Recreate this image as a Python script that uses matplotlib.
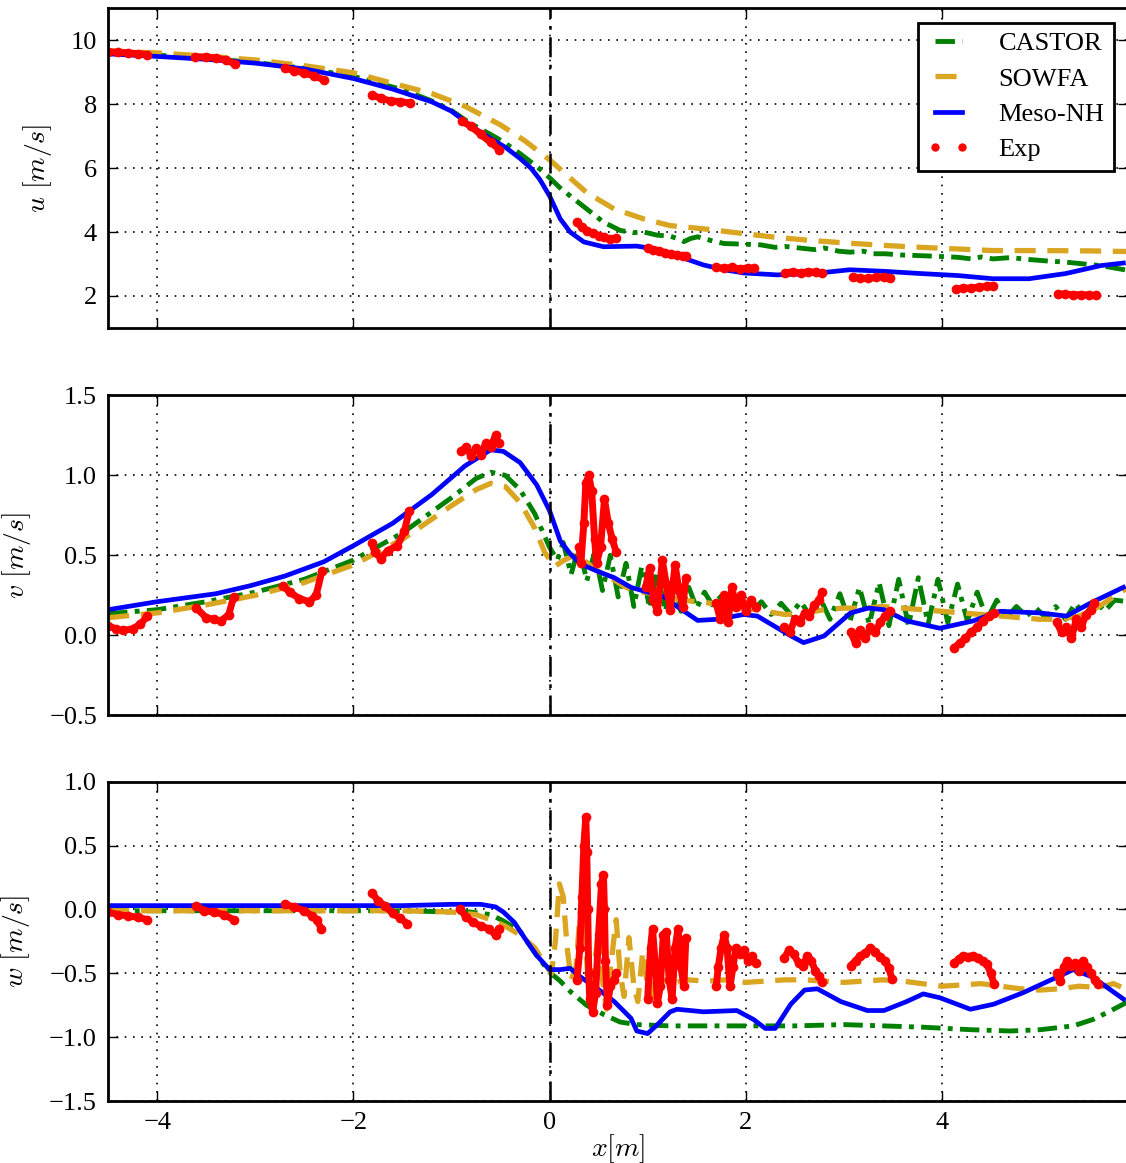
import numpy as np
import matplotlib
matplotlib.use("Agg")
import matplotlib.pyplot as plt
from matplotlib.lines import Line2D

nan = np.nan

# ---------------- u panel ----------------
castor_u_x = [-4.5, -4.0, -3.5, -3.0, -2.5, -2.0, -1.5, -1.2, -1.0, -0.81, -0.6, -0.47, -0.3, -0.13, 0.0,
              0.1, 0.21, 0.38, 0.55, 0.72, 0.85, 0.96, 1.1, 1.23, 1.3, 1.37, 1.44, 1.51, 1.64, 1.78, 1.98,
              2.15, 2.3, 2.4, 2.55, 2.7, 2.8, 2.95, 3.06, 3.2, 3.3, 3.42, 3.6, 3.79, 3.95, 4.16, 4.3, 4.4,
              4.52, 4.7, 4.89, 5.05, 5.26, 5.45, 5.62, 5.75, 5.9]
castor_u = [9.6, 9.53, 9.43, 9.3, 9.12, 8.87, 8.45, 8.1, 7.8, 7.4, 7.05, 6.82, 6.45, 6.05, 5.7,
            5.4, 5.13, 4.72, 4.31, 4.05, 3.98, 4.0, 3.9, 3.87, 3.8, 3.7, 3.8, 3.85, 3.74, 3.64, 3.62,
            3.6, 3.52, 3.55, 3.5, 3.45, 3.5, 3.4, 3.37, 3.4, 3.32, 3.32, 3.28, 3.26, 3.24, 3.21, 3.16, 3.22,
            3.16, 3.2, 3.14, 3.1, 3.06, 3.0, 2.95, 2.88, 2.8]

sowfa_u_x = [-4.5, -4.0, -3.5, -3.0, -2.5, -2.0, -1.6, -1.2, -0.86, -0.5, -0.25, 0.0, 0.21, 0.38, 0.66,
             0.96, 1.23, 1.57, 1.98, 2.32, 2.69, 3.06, 3.42, 3.79, 4.16, 4.52, 5.0, 5.5, 5.9]
sowfa_u = [9.66, 9.6, 9.5, 9.38, 9.2, 8.98, 8.65, 8.33, 7.93, 7.35, 6.85, 6.26, 5.69, 5.23, 4.72,
           4.41, 4.2, 4.1, 3.95, 3.83, 3.73, 3.65, 3.58, 3.52, 3.47, 3.42, 3.42, 3.41, 3.39]

meso_u_x = [-4.5, -4.0, -3.5, -3.0, -2.5, -2.0, -1.6, -1.2, -1.0, -0.8, -0.6, -0.45, -0.3, -0.19, -0.1,
            0.0, 0.11, 0.21, 0.35, 0.55, 0.89, 1.03, 1.23, 1.4, 1.57, 1.78, 1.98, 2.32, 2.69, 3.06,
            3.42, 3.79, 4.16, 4.52, 4.89, 5.26, 5.62, 5.85]
meso_u = [9.57, 9.49, 9.4, 9.28, 9.1, 8.8, 8.47, 8.07, 7.78, 7.32, 6.92, 6.65, 6.3, 6.0, 5.65,
          5.13, 4.41, 4.0, 3.69, 3.54, 3.56, 3.49, 3.33, 3.15, 2.97, 2.82, 2.72, 2.66, 2.70, 2.82,
          2.77, 2.70, 2.64, 2.54, 2.54, 2.70, 2.95, 3.03]

exp_u_x = [-4.5, -4.4, -4.3, -4.2, -4.1, nan,
           -3.61, -3.5, -3.4, -3.3, -3.21, nan,
           -2.7, -2.6, -2.5, -2.4, -2.3, nan,
           -1.81, -1.72, -1.62, -1.52, -1.42, nan,
           -0.89, -0.8, -0.7, -0.6, -0.51, nan,
           0.28, 0.33, 0.38, 0.44, 0.5, 0.56, 0.62, 0.68, nan,
           1.0, 1.06, 1.12, 1.18, 1.24, 1.3, 1.36, 1.39, nan,
           1.7, 1.78, 1.86, 1.94, 2.02, 2.08, nan,
           2.4, 2.48, 2.56, 2.64, 2.72, 2.78, nan,
           3.09, 3.17, 3.25, 3.33, 3.41, 3.47, nan,
           4.14, 4.22, 4.3, 4.38, 4.46, 4.52, nan,
           5.18, 5.26, 5.34, 5.42, 5.5, 5.57]
exp_u = [9.64, 9.62, 9.6, 9.58, 9.55, nan,
         9.48, 9.47, 9.44, 9.38, 9.26, nan,
         9.12, 9.05, 8.97, 8.88, 8.76, nan,
         8.29, 8.18, 8.1, 8.08, 8.03, nan,
         7.46, 7.3, 7.05, 6.8, 6.58, nan,
         4.3, 4.15, 4.02, 3.98, 3.88, 3.84, 3.78, 3.8, nan,
         3.5, 3.45, 3.42, 3.35, 3.3, 3.28, 3.26, 3.25, nan,
         2.9, 2.86, 2.9, 2.84, 2.88, 2.86, nan,
         2.73, 2.75, 2.72, 2.76, 2.74, 2.72, nan,
         2.6, 2.55, 2.55, 2.58, 2.6, 2.55, nan,
         2.22, 2.24, 2.25, 2.28, 2.3, 2.32, nan,
         2.07, 2.05, 2.04, 2.04, 2.03, 2.02]

# ---------------- v panel ----------------
castor_v_x = [-4.5, -4.0, -3.5, -3.0, -2.5, -2.0, -1.5, -1.0, -0.75, -0.6, -0.45, -0.3, -0.15, 0.0,
              0.08, 0.14, 0.22, 0.30, 0.38, 0.46, 0.54, 0.62, 0.70, 0.78, 0.86, 0.94, 1.02, 1.10,
              1.18, 1.26, 1.34, 1.42, 1.50, 1.58, 1.66, 1.76, 1.86, 1.96, 2.06, 2.16, 2.26, 2.36,
              2.46, 2.56, 2.66, 2.76, 2.86, 2.96, 3.06, 3.16, 3.26, 3.36, 3.46, 3.56, 3.66, 3.76,
              3.86, 3.96, 4.06, 4.16, 4.26, 4.36, 4.46, 4.56, 4.66, 4.76, 4.86, 4.96, 5.06, 5.16,
              5.26, 5.36, 5.46, 5.56, 5.66, 5.76, 5.9]
castor_v = [0.135, 0.16, 0.21, 0.27, 0.35, 0.47, 0.64, 0.86, 0.98, 1.02, 1.0, 0.91, 0.76, 0.55,
            0.47, 0.58, 0.38, 0.56, 0.34, 0.52, 0.28, 0.50, 0.24, 0.45, 0.18, 0.43, 0.17, 0.40,
            0.15, 0.36, 0.15, 0.30, 0.17, 0.27, 0.19, 0.25, 0.17, 0.22, 0.15, 0.21, 0.13, 0.20,
            0.13, 0.21, 0.12, 0.23, 0.10, 0.26, 0.08, 0.30, 0.07, 0.33, 0.06, 0.35, 0.06, 0.36,
            0.07, 0.35, 0.08, 0.32, 0.09, 0.27, 0.10, 0.22, 0.11, 0.18, 0.12, 0.17, 0.11, 0.18,
            0.10, 0.20, 0.12, 0.22, 0.15, 0.22, 0.21]

sowfa_v_x = [-4.5, -4.0, -3.5, -3.0, -2.5, -2.0, -1.5, -1.0, -0.75, -0.6, -0.45, -0.3, -0.15, -0.05,
             0.05, 0.15, 0.25, 0.35, 0.45, 0.55, 0.65, 0.75, 0.85, 0.95, 1.05, 1.2, 1.35, 1.5, 1.65,
             1.8, 2.0, 2.2, 2.4, 2.6, 2.8, 3.0, 3.2, 3.4, 3.6, 3.8, 4.0, 4.2, 4.4, 4.6, 4.8, 5.0,
             5.2, 5.4, 5.6, 5.75, 5.9]
sowfa_v = [0.11, 0.14, 0.19, 0.25, 0.33, 0.44, 0.6, 0.81, 0.91, 0.95, 0.93, 0.83, 0.67, 0.52,
           0.43, 0.47, 0.50, 0.47, 0.42, 0.38, 0.35, 0.31, 0.28, 0.27, 0.26, 0.24, 0.22, 0.21, 0.20,
           0.18, 0.17, 0.15, 0.13, 0.14, 0.16, 0.17, 0.17, 0.18, 0.17, 0.16, 0.15, 0.14, 0.13, 0.12,
           0.11, 0.10, 0.10, 0.12, 0.18, 0.24, 0.30]

meso_v_x = [-4.5, -4.0, -3.4, -3.05, -2.7, -2.3, -2.0, -1.6, -1.2, -0.86, -0.6, -0.47, -0.3, -0.13,
            0.0, 0.11, 0.21, 0.32, 0.49, 0.66, 0.83, 1.0, 1.17, 1.3, 1.51, 1.71, 1.98, 2.12, 2.29,
            2.45, 2.59, 2.8, 3.07, 3.25, 3.41, 3.64, 3.98, 4.32, 4.59, 5.0, 5.27, 5.51, 5.85]
meso_v = [0.16, 0.21, 0.26, 0.31, 0.37, 0.46, 0.56, 0.70, 0.88, 1.06, 1.16, 1.15, 1.08, 0.94,
          0.78, 0.59, 0.51, 0.445, 0.40, 0.36, 0.30, 0.27, 0.24, 0.18, 0.093, 0.10, 0.13, 0.12, 0.058,
          0.0, -0.046, -0.004, 0.14, 0.17, 0.16, 0.09, 0.044, 0.09, 0.15, 0.14, 0.12, 0.20, 0.30]

exp_v_x = [-4.5, -4.42, -4.35, -4.25, -4.17, -4.1, nan,
           -3.6, -3.5, -3.42, -3.35, -3.27, -3.22, nan,
           -2.72, -2.65, -2.55, -2.45, -2.38, -2.32, nan,
           -1.81, -1.78, -1.72, -1.65, -1.55, -1.48, -1.43, nan,
           -0.9, -0.85, -0.8, -0.75, -0.7, -0.65, -0.6, -0.55, -0.52, nan,
           0.30, 0.32, 0.35, 0.37, 0.40, 0.43, 0.46, 0.48, 0.52, 0.56, 0.60, 0.64, 0.68, nan,
           0.98, 1.02, 1.06, 1.10, 1.15, 1.19, 1.23, 1.28, 1.32, 1.36, 1.39, nan,
           1.70, 1.74, 1.78, 1.82, 1.86, 1.90, 1.95, 2.0, 2.05, 2.1, nan,
           2.39, 2.45, 2.5, 2.55, 2.6, 2.65, 2.7, 2.75, 2.78, nan,
           3.07, 3.12, 3.17, 3.22, 3.27, 3.32, 3.37, 3.42, 3.47, nan,
           4.12, 4.18, 4.24, 4.30, 4.36, 4.42, 4.48, 4.53, nan,
           5.17, 5.22, 5.27, 5.32, 5.37, 5.42, 5.47, 5.52, 5.55]
exp_v = [0.06, 0.04, 0.03, 0.04, 0.07, 0.12, nan,
         0.17, 0.11, 0.10, 0.09, 0.13, 0.24, nan,
         0.31, 0.27, 0.23, 0.21, 0.25, 0.40, nan,
         0.58, 0.52, 0.48, 0.53, 0.56, 0.65, 0.78, nan,
         1.15, 1.18, 1.12, 1.17, 1.13, 1.20, 1.18, 1.25, 1.20, nan,
         0.55, 0.45, 0.70, 0.95, 1.0, 0.9, 0.6, 0.45, 0.55, 0.85, 0.7, 0.6, 0.52, nan,
         0.30, 0.42, 0.22, 0.15, 0.47, 0.32, 0.16, 0.44, 0.28, 0.18, 0.36, nan,
         0.2, 0.1, 0.25, 0.08, 0.3, 0.18, 0.25, 0.15, 0.22, 0.18, nan,
         0.05, 0.02, 0.1, 0.08, 0.14, 0.12, 0.19, 0.22, 0.27, nan,
         0.02, -0.05, 0.03, -0.02, 0.05, 0.02, 0.08, 0.12, 0.15, nan,
         -0.08, -0.05, -0.02, 0.02, 0.05, 0.09, 0.12, 0.14, nan,
         0.08, 0.02, 0.05, -0.02, 0.10, 0.05, 0.13, 0.16, 0.20]

# ---------------- w panel ----------------
castor_w_x = [-4.5, -3.0, -1.5, -1.0, -0.81, -0.6, -0.47, -0.3, -0.13, 0.0, 0.11, 0.21, 0.38, 0.55,
              0.72, 0.89, 1.23, 1.6, 2.0, 2.5, 3.0, 3.4, 3.8, 4.3, 4.7, 5.0, 5.34, 5.54, 5.7, 5.9]
castor_w = [-0.01, -0.01, -0.01, -0.02, -0.02, -0.04, -0.09, -0.17, -0.36, -0.49, -0.56, -0.64, -0.75,
            -0.82, -0.88, -0.90, -0.91, -0.91, -0.91, -0.91, -0.90, -0.91, -0.92, -0.94, -0.95, -0.94,
            -0.91, -0.86, -0.80, -0.72]

sowfa_w_x = [-4.5, -3.0, -1.5, -1.0, -0.75, -0.6, -0.45, -0.3, -0.15, -0.05, 0.02, 0.06, 0.1, 0.14,
             0.18, 0.22, 0.27, 0.32, 0.36, 0.40, 0.45, 0.50, 0.54, 0.58, 0.63, 0.68, 0.72, 0.76, 0.81,
             0.86, 0.90, 0.95, 1.0, 1.05, 1.1, 1.15, 1.25, 1.4, 1.6, 1.8, 2.0, 2.2, 2.4, 2.6, 2.8, 3.0,
             3.2, 3.4, 3.6, 3.8, 4.0, 4.2, 4.4, 4.6, 4.8, 5.0, 5.2, 5.4, 5.6, 5.75, 5.9]
sowfa_w = [-0.01, -0.01, -0.01, -0.02, -0.04, -0.08, -0.13, -0.2, -0.3, -0.42, -0.50, -0.25, 0.2, 0.1,
           -0.3, -0.55, -0.45, 0.05, -0.2, -0.62, -0.5, -0.15, -0.55, -0.78, -0.4, -0.08, -0.5, -0.68,
           -0.22, -0.6, -0.72, -0.33, -0.6, -0.68, -0.45, -0.55, -0.58, -0.55, -0.56, -0.55, -0.57,
           -0.56, -0.55, -0.55, -0.56, -0.57, -0.56, -0.55, -0.56, -0.58, -0.6, -0.59, -0.58, -0.6,
           -0.62, -0.63, -0.62, -0.6, -0.61, -0.58, -0.63]

meso_w_x = [-4.5, -3.0, -1.5, -1.0, -0.7, -0.55, -0.47, -0.36, -0.23, -0.13, 0.0, 0.11, 0.21, 0.32,
            0.49, 0.66, 0.83, 0.89, 1.0, 1.10, 1.23, 1.30, 1.57, 1.91, 2.08, 2.2, 2.3, 2.46, 2.6, 2.73,
            2.97, 3.24, 3.41, 3.64, 3.81, 3.98, 4.29, 4.53, 4.83, 5.17, 5.34, 5.54, 5.85]
meso_w = [0.03, 0.03, 0.03, 0.04, 0.04, 0.02, -0.02, -0.10, -0.25, -0.36, -0.47, -0.47, -0.46, -0.53,
          -0.62, -0.72, -0.85, -0.95, -0.97, -0.90, -0.80, -0.78, -0.80, -0.79, -0.86, -0.93, -0.93,
          -0.74, -0.63, -0.62, -0.72, -0.79, -0.79, -0.72, -0.66, -0.69, -0.78, -0.74, -0.65, -0.53,
          -0.47, -0.53, -0.70]

exp_w_x = [-4.5, -4.4, -4.3, -4.2, -4.1, nan,
           -3.6, -3.52, -3.42, -3.32, -3.22, nan,
           -2.70, -2.6, -2.5, -2.42, -2.37, -2.33, nan,
           -1.81, -1.75, -1.68, -1.6, -1.52, -1.45, nan,
           -0.91, -0.85, -0.78, -0.7, -0.62, -0.55, -0.52, nan,
           0.28, 0.31, 0.33, 0.35, 0.37, 0.38, 0.39, 0.40, 0.41, 0.44, 0.47, 0.50, 0.53, 0.55, 0.56,
           0.57, 0.59, 0.62, 0.66, 0.68, nan,
           1.0, 1.03, 1.05, 1.08, 1.10, 1.13, 1.16, 1.19, 1.22, 1.25, 1.28, 1.31, 1.34, 1.37, 1.39, nan,
           1.70, 1.72, 1.75, 1.78, 1.81, 1.84, 1.87, 1.90, 1.94, 1.98, 2.02, 2.06, 2.10, nan,
           2.39, 2.44, 2.49, 2.54, 2.58, 2.63, 2.67, 2.71, 2.75, 2.78, nan,
           3.07, 3.12, 3.17, 3.22, 3.27, 3.32, 3.37, 3.42, 3.46, 3.49, nan,
           4.12, 4.17, 4.22, 4.27, 4.32, 4.37, 4.42, 4.46, 4.50, 4.53, nan,
           5.17, 5.20, 5.24, 5.28, 5.32, 5.36, 5.40, 5.44, 5.48, 5.52, 5.56, 5.59]
exp_w = [-0.02, -0.04, -0.05, -0.06, -0.08, nan,
         0.03, -0.01, -0.02, -0.04, -0.08, nan,
         0.04, 0.02, -0.01, -0.05, -0.08, -0.15, nan,
         0.13, 0.07, 0.03, -0.03, -0.07, -0.11, nan,
         0.0, -0.06, -0.1, -0.13, -0.15, -0.2, -0.15, nan,
         -0.55, -0.3, 0.1, 0.5, 0.72, 0.45, 0.0, -0.5, -0.7, -0.8, -0.65, -0.2, 0.2, 0.27, 0.0,
         -0.4, -0.75, -0.6, -0.55, -0.5, nan,
         -0.7, -0.3, -0.15, -0.45, -0.73, -0.6, -0.2, -0.18, -0.55, -0.7, -0.3, -0.15, -0.45, -0.6, -0.22, nan,
         -0.6, -0.45, -0.3, -0.2, -0.3, -0.6, -0.45, -0.3, -0.35, -0.32, -0.4, -0.36, -0.42, nan,
         -0.38, -0.32, -0.35, -0.42, -0.44, -0.36, -0.40, -0.48, -0.52, -0.57, nan,
         -0.44, -0.40, -0.36, -0.34, -0.30, -0.33, -0.37, -0.40, -0.46, -0.54, nan,
         -0.42, -0.39, -0.36, -0.37, -0.36, -0.38, -0.40, -0.43, -0.50, -0.58, nan,
         -0.50, -0.56, -0.45, -0.40, -0.44, -0.42, -0.48, -0.40, -0.45, -0.50, -0.55, -0.58]

panels = [
    (castor_u_x, castor_u, sowfa_u_x, sowfa_u, meso_u_x, meso_u, exp_u_x, exp_u,
     (1, 11), [2, 4, 6, 8, 10], r'$u\ [m/s]$', '%d'),
    (castor_v_x, castor_v, sowfa_v_x, sowfa_v, meso_v_x, meso_v, exp_v_x, exp_v,
     (-0.5, 1.5), [-0.5, 0.0, 0.5, 1.0, 1.5], r'$v\ [m/s]$', '%.1f'),
    (castor_w_x, castor_w, sowfa_w_x, sowfa_w, meso_w_x, meso_w, exp_w_x, exp_w,
     (-1.5, 1.0), [-1.5, -1.0, -0.5, 0.0, 0.5, 1.0], r'$w\ [m/s]$', '%.1f'),
]
xticks = [-4, -2, 0, 2, 4]

plt.rcParams['font.family'] = 'serif'
plt.rcParams['font.serif'] = ['Liberation Serif', 'DejaVu Serif']
plt.rcParams['mathtext.fontset'] = 'cm'

fig = plt.figure(figsize=(11.26, 11.63), dpi=100)
bottoms = [0.718, 0.385, 0.053]
green, gold, blue, red = '#008000', '#DAA520', '#0000FF', '#FF0000'

for i, (cx, cy, sx, sy, mx, my, ex, ey, ylim, yt, ylab, fmt) in enumerate(panels):
    ax = fig.add_axes([0.096, bottoms[i], 0.906, 0.275])
    ax.plot(cx, cy, color=green, lw=3.5, dashes=(4, 1.5, 1, 1.5), label='CASTOR')
    ax.plot(sx, sy, color=gold, lw=3.8, dashes=(4, 2.2), label='SOWFA')
    ax.plot(mx, my, color=blue, lw=3.4, label='Meso-NH')
    ax.plot(ex, ey, color=red, lw=5, marker='o', ms=7, mew=0,
            solid_capstyle='round', solid_joinstyle='round')
    ax.axvline(0, color='k', lw=1.8, dashes=(8, 3, 1.5, 3))
    ax.set_xlim(-4.5, 5.9)
    ax.set_ylim(*ylim)
    ax.set_yticks(yt)
    ax.set_yticklabels([(fmt % t).replace('-', '\u2212') for t in yt])
    ax.set_xticks(xticks)
    ax.grid(True, color='k', lw=1.2, dashes=(1, 4))
    ax.tick_params(direction='in', length=7, width=1, labelsize=19, pad=8,
                   top=True, right=True)
    for sp in ax.spines.values():
        sp.set_linewidth(2)
    ax.set_ylabel(ylab, fontsize=20, labelpad=12)
    if i < 2:
        ax.set_xticklabels([])
    else:
        ax.set_xlabel(r'$x[m]$', fontsize=20, labelpad=-2)
    if i == 0:
        handles = ax.get_lines()[:3] + [Line2D([], [], color=red, ls='none', marker='o', ms=6, mew=0)]
        leg = ax.legend(handles, ['CASTOR', 'SOWFA', 'Meso-NH', 'Exp'], loc='upper right',
                        fontsize=19, numpoints=2, handlelength=1.6, handletextpad=1.1,
                        labelspacing=0.45, borderpad=0.35, borderaxespad=0.55,
                        fancybox=False, framealpha=1)
        leg.get_frame().set_edgecolor('k')
        leg.get_frame().set_linewidth(2)

fig.savefig('out.png', dpi=100)
